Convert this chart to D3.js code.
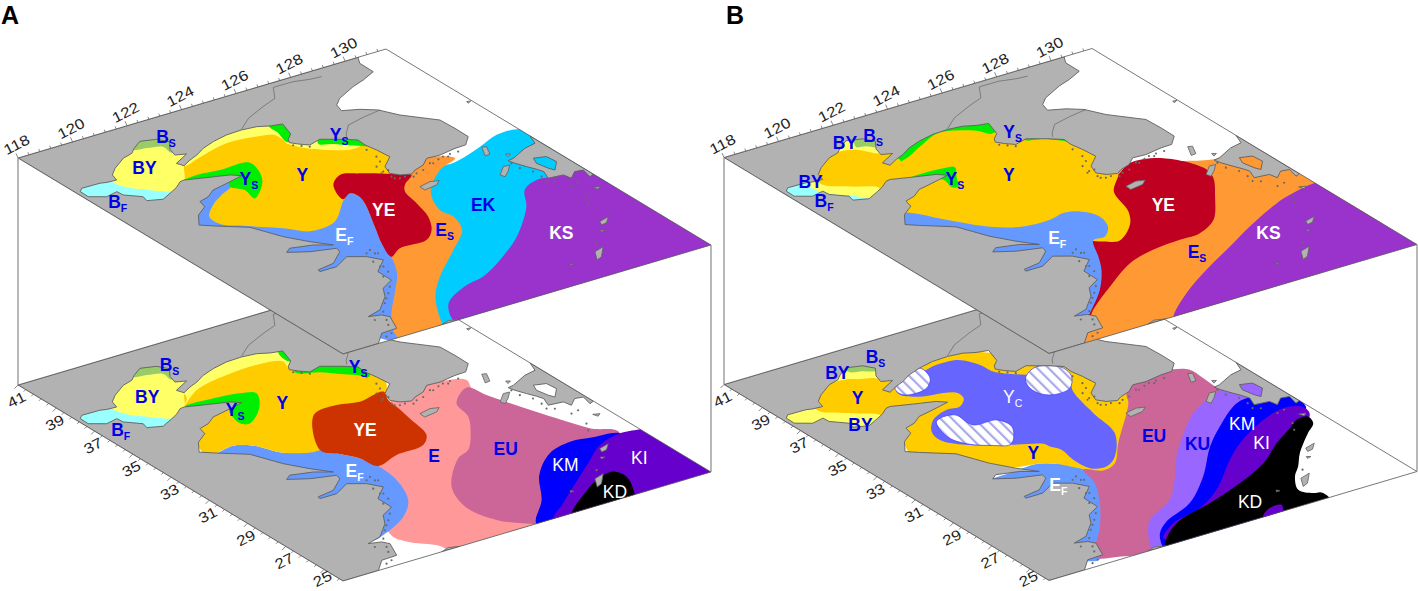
<!DOCTYPE html>
<html>
<head>
<meta charset="utf-8">
<script src="https://cdn.jsdelivr.net/npm/d3@7/dist/d3.min.js"></script>
<style>
  html, body { margin: 0; background: #fff; }
  text { font-family: "Liberation Sans", Arial, sans-serif; }
</style>
</head>
<body>
<div id="chart"></div>
<script>
// tick labels
const lonLabels = [118, 120, 122, 124, 126, 128, 130]
const latLabels = [41, 39, 37, 35, 33, 31, 29, 27, 25]

// land, all [lon, lat]
const mainland = [[118,41],[130.5,41],[130.44,40.94],[130.27,40.62],[130.26,39.9],[129.68,39.59],[129.16,39.38],[128.35,38.93],[128,38.59],[127.89,38.18],[128.4,37.94],[128.82,37.59],[129.15,36.92],[129.93,35.94],[129.96,35.2],[129.95,34.49],[129.55,34.05],[129.14,34.03],[128.5,33.9],[128.04,33.94],[127.68,33.61],[127.28,33.46],[127.03,33.29],[126.71,33.43],[126.52,33.7],[126.68,34.18],[127.2,34.67],[127.15,35.29],[127.07,35.78],[127.1,36.19],[126.76,36.49],[126.19,36.89],[125.71,36.73],[125.47,36.98],[125.3,37.22],[125.41,37.43],[125.69,37.7],[125.9,38.42],[125.51,38.52],[125.15,38.71],[124.64,38.78],[124.07,38.75],[123.48,38.59],[122.95,38.37],[122.52,38.09],[122.15,37.92],[121.77,37.69],[121.68,37.96],[122.31,38.33],[121.98,38.47],[122.09,38.88],[122.39,39.34],[122.17,39.7],[121.68,39.87],[121.25,39.56],[120.99,39.31],[120.58,39.17],[119.97,38.73],[119.63,38.39],[119.53,38.02],[119.19,38.05],[118.99,38.12],[118.33,38.14],[118.16,37.97],[118.15,37.54],[118.6,37.22],[119.06,37.34],[119.08,37.04],[119.5,36.59],[119.43,36.3],[119.89,36.1],[120.41,36.39],[120.7,36.56],[121.02,36.83],[121.19,36.86],[121.84,36.61],[122.53,36.36],[122.78,36.12],[122.4,36.01],[121.8,35.85],[121.5,35.78],[121.1,35.47],[120.7,35.33],[120.61,34.95],[120.11,34.57],[119.72,33.98],[120.04,33.68],[120.88,32.97],[121.32,31.85],[121.77,31.1],[122.21,30.51],[121.72,30.85],[121,31.07],[120.76,30.88],[121.36,30.52],[122.15,30.26],[122.1,30.01],[121.46,29.44],[120.82,29.32],[120.79,29.19],[121.41,29.19],[122.06,29.6],[122.55,29.26],[122.83,28.78],[122.22,28.19],[122.21,27.47],[121.67,27.13],[121.37,26.61],[120.71,25.93],[120.15,25.74],[120.54,25.61],[120.68,25.36],[120.37,24.57],[119.8,24.54],[119.3,24],[118,24]]
const kyushu = [[131.5,33.47],[131.32,32.95],[130.86,32.83],[130.18,32.45],[129.95,32.4],[130.01,32.13],[130.16,31.74],[130.3,31.41],[130.38,31.15],[130.22,30.69],[130.73,30.62],[130.79,30.29],[131.14,30.62],[131.42,30.56],[131.31,30.06],[131.5,30.15]]
const kyushuBay = [[130.67,32.11],[131.06,31.98],[131.1,31.51],[130.72,31.05],[130.63,31.27],[130.54,31.76]]
const islands = [
  [[126.72,32.41],[127.17,32.53],[127.44,32.43],[127.2,32.22],[126.7,32.13]],
  [[129.85,33.64],[129.99,33.59],[129.77,33.1],[129.58,33.07]],
  [[129.17,31.71],[129.59,32.14],[129.81,32.12],[129.5,31.77],[129.22,31.52]],
  [[130.16,32.83],[130.28,32.75],[130.11,32.64]],
  [[129.72,27.28],[130.13,27.42],[129.84,27.1],[129.63,27.05]],
  [[129.39,26.78],[129.5,26.7],[129.34,26.65]],
  [[128.37,25.61],[128.78,25.76],[128.33,25.21],[128.09,25.09]],
  [[130.94,29.39],[131.15,29.31],[131,29.19]],
  [[127.28,25.36],[127.34,25.24],[127.22,25.24]],
  [[131.34,36.55],[131.47,36.52],[131.31,36.43]],
  [[121.62,24],[121.95,24.13],[122.29,24]]
]
const islets = [[126.43,33.92],[126.44,33.33],[126.76,33.25],[127.18,33.24],[127.92,33.6],[128.51,33.76],[128.79,33.79],[126.76,34.56],[122.89,29.3],[122.69,29.45],[122.56,28.39],[122.47,28.01],[121.59,26.75],[121.1,26.23],[120.46,25.23],[120.04,24.37],[130.04,30.52],[130.45,29.8],[130.75,29.88],[130.41,28.96],[130.18,28.54],[128.76,26.08],
  [122.91,29.59],[122.97,29.25],[122.51,28.85],[122.48,28.45],[122.15,27.81],[121.9,27.11],[121.34,26.49],[120.72,25.77],[120.17,25.43],[120.3,24.91],[119.78,24.26],
  [126.62,33.92],[126.43,33.48],[126.57,33.24],[126.97,33.1],[127.48,33.32],[128,33.54],[128.29,33.68],[128.64,33.67],[129.09,33.79],
  [129.92,32.19],[129.93,31.76],[130.12,31.34],[130.12,30.89],[130.24,30.37],
  [125.29,37],[125.47,36.82],[125.64,36.63],[126.91,35.47],[126.87,34.9],[126.47,34.32],[126.32,33.85]]
const borderNorth = [[128.79,40.5],[128.39,40.55],[127.88,40.7],[127.16,40.71],[126.75,40.04],[126.13,39.77],[125.29,39.34],[124.67,38.82]]
const borderSouth = [[128.87,37.56],[128.16,37.42],[127.48,37.23],[127.08,36.78],[126.93,36.54]]

// water shared by the Bohai Sea panels
const bohaiFront = [[118.16,38.26],[119.59,38.27],[120.82,36.54],[119.9,35.6],[117.61,37.2]]
const bohaiYellowA = [[121.77,37.69],[121.17,36.82],[120.53,36.4],[119.8,37.02],[119.46,37.49],[119.36,38.05],[119.83,38.97],[121.4,39.89],[122.5,39.12],[122.07,37.98]]
const bohaiShelfA = [[121.17,39.53],[121.58,39.36],[122.03,39.14],[122,38.66],[122.86,39.45],[121.91,40.54]]

// panel A, upper
const ekA = [[128.64,33.24],[129.83,33.7],[130.72,34.1],[131.44,34.08],[132,33.5],[132,30],[123,23.5],[121.5,24],[123,28],[127,33]]
const ksA = [[130.73,30.62],[129.86,30.79],[129.16,30.41],[128.52,29.41],[127.06,27.83],[125.7,26.77],[124.61,26.09],[123.86,25.88],[122.84,25.3],[122.52,24.94],[122.13,24.2],[122,23.5],[133,23],[133,30.5]]
const esA = [[128.74,33.45],[127.89,33.03],[126.78,31.93],[126.26,30.71],[126.32,30.09],[125.99,29.16],[124.96,28.15],[123.54,26.83],[122.61,25.74],[121.74,24.18],[121.5,23.5],[120,23.5],[121,30],[126,34.5],[127.5,34.3]]
const efA = [[122.6,36.2],[120.82,35.67],[119.84,34.63],[119.3,34],[119.5,31],[119,27],[119.9,23.8],[120.21,24.53],[120.85,25.53],[121.75,26.64],[122.62,27.76],[123.16,28.83],[123.47,29.78],[123.98,30.86],[124.8,32.73],[124.73,33.22],[124.31,33.8],[123.5,35]]
const yA = [[121.95,38.06],[124.58,39.11],[125.97,38.14],[127.59,36.43],[127.15,34.42],[126.49,33.3],[124.94,33.37],[124.31,32.95],[123.2,31.84],[122.24,31.69],[121.66,32.34],[120.86,33.1],[120.28,33.68],[120.32,34.3],[120.89,34.91],[121.5,35.34],[122.16,35.75],[122.13,36.49],[121.06,36.8]]
const yellowNorthA = [[121.77,37.69],[122.51,37.91],[123.73,38.26],[124.85,38.11],[125.26,37.91],[125.26,37.48],[125.22,37.15],[126.46,38.66],[124.44,39.79],[122.04,38.29]]
const yellowEastA = [[125.26,37.25],[125.38,36.76],[125.92,36.15],[126.62,35.75],[127.21,35.97],[126.83,37.1],[125.84,37.79]]
const greenBayA = [[125.49,38.56],[125.43,38.02],[125.27,37.27],[125.87,37.63],[126.15,38.74]]
const greenEastA = [[125.97,36.66],[126.33,36.38],[126.69,36.02],[127.18,35.68],[127.27,36.51],[126.37,37.14]]
const greenCapeA = [[121.18,36.83],[121.71,36.93],[122.48,36.82],[123.49,36.78],[123.42,36.16],[123.01,35.36],[122.18,34.57],[122.27,35.23],[122.05,35.68],[122.3,36.23],[121.38,36.3]]
const yeA = [[124.66,34],[125.23,34.47],[125.78,34.22],[126.81,33.41],[126.99,33.23],[126.42,32.77],[126.15,32.38],[125.96,31.49],[125.7,30.52],[125.24,29.69],[124.7,29.19],[123.71,29.17],[123.16,28.83],[123.47,29.78],[123.98,30.86],[124.8,32.73],[124.73,33.22],[124.31,33]]

// panel A, lower
const eLow = [[121.08,25.94],[121.17,25.2],[121.81,24.36],[121.9,23.5],[125.5,23.5],[128.97,29.69],[128.98,32.85],[129.24,33.56],[128.74,33.89],[127.05,33.92],[124.19,31.59]]
const euLowA = [[128.94,33.13],[129.12,32.35],[129.47,31.1],[129.89,29.78],[130.3,28.63],[130.84,27.82],[125.71,23.29],[125.08,23.96],[124.27,24.91],[124.04,26.22],[124.52,27.62],[125.84,29.15],[126.43,29.47],[127.17,30.4],[127.79,31.41],[128.04,32.38]]
const kmLowA = [[125.08,23.96],[126.19,25.29],[127.15,26.78],[128.3,27.87],[129.27,28.19],[130.01,28.05],[130.84,27.82],[130.75,26.99],[126.53,22.72]]
const kiLowA = [[130.84,27.82],[129.87,27.49],[128.83,26.62],[127.8,25.76],[126.59,24.73],[125.65,23.91],[125.5,23],[133,23],[133,27.5],[131.5,27.71]]
const kdLowA = [[126.38,24],[127.42,24.86],[128.36,25.51],[129.11,25.71],[129.23,25.19],[128.86,24.29],[128.34,23.48],[125.83,23.21]]
const efLowA = [[120.1,33.61],[120.82,33.76],[121.31,33.42],[121.77,32.49],[122.78,32.02],[123.1,31.45],[123.42,30.84],[123.56,30.09],[123.44,28.95],[122.91,27.59],[122.11,26.7],[120.87,25.98],[120.4,25.84],[119.5,27],[119.5,31],[119.8,33.6]]
const yLowA = [[121.95,38.06],[124.58,39.11],[125.97,38.14],[127.59,36.43],[127.12,34.73],[125.03,32.44],[123.5,32.5],[122.78,32.02],[121.77,32.49],[121.31,33.42],[120.82,33.76],[120.1,33.61],[119.78,33.5],[120.01,34.51],[120.98,35.56],[122.13,36.49],[121.06,36.8]]
const yellowLowA = [[121.23,36.92],[122.2,37.63],[123.54,37.99],[124.92,38.04],[125.48,37.79],[125.34,37.31],[126.46,38.66],[124.44,39.79],[122.04,38.29],[121.6,37.3]]
const greenCapeLowA = [[121.23,36.86],[122.27,36.86],[123.12,36.7],[123.53,36.41],[123.06,35.58],[122.15,34.77],[121.9,34.95],[122.06,35.7],[122.3,36.23],[121.38,36.3]]
const greenBayLowA = [[125.76,38.46],[125.61,37.76],[125.87,37.63],[126.23,38.68]]
const greenEastLowA = [[125.33,36.97],[125.95,36.54],[126.37,36.1],[126.74,35.75],[127.01,35.44],[127.34,36.6],[125.78,37.69]]
const yeLowA = [[124.05,34.16],[125.02,34.35],[125.73,34.14],[126.72,34.32],[126.5,33.75],[126.41,33.09],[126.25,32.18],[126.01,31.05],[125.52,30.53],[124.46,30.41],[123.56,30.09],[123.42,30.84],[123.1,31.45],[122.78,32.02]]

// panel B, upper
const esB = [[130.05,32.45],[130.77,32.61],[131.68,31.98],[131.69,29.65],[133,27],[125,23],[119.3,23.8],[122,29],[126,33.5],[128.5,33.2]]
const ksB = [[122.49,23.91],[123.84,25.14],[125.29,26.16],[126.82,27.11],[128.12,27.93],[129.74,28.82],[130.4,29.08],[131.44,29.34],[133,29],[133,23],[122,23]]
const yeB = [[126.99,33.2],[127.76,33.68],[128.78,33.39],[129.39,32.01],[129.2,31.37],[128.49,30.27],[127.5,28.94],[126.62,28.4],[125.86,28.36],[124.79,28.24],[123.68,27.86],[122.24,26.85],[120.87,25.78],[119.96,24.86],[119.86,25.07],[122.15,28.68],[125.28,32.27]]
const yB = [[121.95,38.06],[124.58,39.11],[125.97,38.14],[127.59,36.43],[127.1,33.45],[126.99,33.2],[126.2,32.3],[125.75,30.9],[125.24,30.09],[124.35,29.35],[123.9,29.58],[123.58,29.84],[122.41,30.8],[121.46,32.05],[120.63,33.49],[120.09,34.46],[120.82,35.67],[122.13,36.49],[120.86,36.51]]
const efB = [[120.35,34.53],[120.88,33.63],[121.79,32.31],[122.54,31.84],[123.48,31.76],[124.08,31.92],[124.56,31.73],[124.84,31.1],[124.63,30.37],[124.15,29.84],[123.7,29.81],[123.17,28.79],[122.71,27.97],[121.85,26.83],[120.65,25.64],[120.05,25.09],[119.3,27],[119.5,31],[119.6,33.8],[119.9,34.8]]
const greenNorthB = [[121.78,37.71],[122.46,37.81],[123.27,38.26],[124.2,38.72],[124.65,38.66],[125.31,38.2],[125.55,37.77],[125.98,37.99],[124.92,39.6],[122.06,38.41]]
const greenEastB = [[126.12,36.85],[126.61,36.57],[127.08,36.03],[127.23,35.75],[127.48,36.64],[126.5,37.33]]
const greenCapeB = [[121.74,36.6],[122.26,36.66],[122.96,36.6],[123.29,36.46],[122.94,35.88],[122.58,35.27],[122.39,35.35],[122.49,35.92],[121.92,36.2]]
const bohaiYellowB = [[118.95,37.85],[119.07,37.16],[119.55,36.62],[120.25,35.92],[120.98,36.43],[122.07,37.98],[122.5,39.12],[121.4,39.89],[119.67,39.09]]
const bohaiOrangeB = [[121.09,39.35],[121.57,39.17],[121.89,38.65],[122.28,38.12],[121.47,36.08],[120.55,36.44],[120.59,36.61],[119.92,37.14],[119.31,37.86],[119.79,39]]
const bohaiShelfB = [[121.68,39.35],[121.95,39.21],[122.24,38.96],[122.67,39.29],[122.48,40.14],[122.15,40.1]]

// panel B, lower
const bohaiOrangeLowB = [[121.13,39.22],[121.57,38.97],[121.97,38.77],[122.28,38.12],[121.47,36.08],[120.57,36.28],[120.6,36.55],[119.77,37.28],[119.25,37.93],[119.79,39]]
const bohaiShelfLowB = [[121.58,39.6],[121.95,39.39],[122.35,39.16],[122.81,39.48],[122.55,40.24],[121.79,40.2]]
const efLowB = [[121.59,30.94],[122.49,30.98],[122.94,30.66],[123.39,29.89],[122.97,28.1],[120.3,24.47],[119.8,24.4],[119.3,27],[119.5,30.5]]
const yLowB = [[121.95,38.06],[124.58,39.11],[125.97,38.14],[127.59,36.43],[127.56,33.57],[125.5,30.5],[124,29.3],[123.39,29.89],[122.94,30.66],[122.49,30.98],[121.77,31.19],[121.37,31.76],[120.77,32.81],[119.7,33.56],[120.69,35.48],[122.13,36.49],[120.86,36.51]]
const euLowB = [[129.68,34.15],[130.06,33.83],[130.05,33.12],[129.98,32.24],[130,31.86],[126.79,28.32],[121.91,24.07],[120.62,24.2],[120.11,24.6],[121.46,26.27],[122.41,27.63],[123.1,28.87],[123.36,29.85],[123.82,29.47],[124.41,29.69],[125.31,30.8],[127.19,32.95],[127.56,33.57],[128.92,34.34]]
const kuLowB = [[129.87,32.08],[129.24,31.8],[128.38,31.25],[127.49,30.42],[126.2,29.02],[125.34,27.88],[124.26,26.61],[122.96,25.79],[122.37,25.04],[121.84,24.12],[121.8,23.6],[126,23.5],[130.4,29],[131.3,32],[130.5,32.5]]
const kmLowB = [[122.23,24.13],[122.66,24.84],[123.3,25.41],[124.62,26.08],[126.04,27.4],[127.43,29.02],[128.49,30.02],[129.85,31.08],[130.53,31.18],[130.78,31.01],[131.29,31.08],[131.42,29.7],[130.57,28.84],[128.08,25.97],[125.63,23.35],[122,23.5]]
const kiLowB = [[122.54,24.49],[123.39,25.19],[124.66,25.61],[125.82,26.39],[127.38,27.91],[128.3,28.7],[129.83,29.65],[130.79,29.99],[131.33,29.7],[131.18,29.15],[128.43,27.17],[123.25,24.15]]
const kdLowB = [[122.2,23.9],[122.38,24.18],[123.48,25.14],[125.12,25.73],[126.66,26.37],[128.06,27.13],[129.21,28.07],[130.14,28.71],[130.65,29.08],[131.06,29.08],[130.92,28.6],[130.38,28.11],[129.37,27.09],[128.78,26.34],[128.3,25.82],[127.83,24.98],[128.07,24.53],[128.29,24.43],[128.27,23.95],[128,23.5],[123,23.5]]
const kiPatchB = [[125.88,24.03],[126.38,24.41],[126.81,24.4],[126.65,24.08],[126.4,23.7]]
const ycLowB = [[122.01,37.73],[123.18,38.35],[123.43,38.33],[124.03,38.48],[124.77,38.39],[125.1,37.73],[125.16,37.12],[125.82,36.36],[126.58,35.7],[126.69,35.32],[126.3,34.57],[125.92,32.97],[125.63,31.44],[124.68,30.08],[124.06,29.64],[123.59,29.83],[123.52,30.6],[123.64,31.39],[123.49,31.78],[123.44,32.05],[122.62,32.54],[121.51,33.31],[121.05,34.06],[121.19,34.69],[121.71,35.34],[122.45,35.7],[122.91,35.66],[123.32,36.04],[123.41,36.46],[123.05,36.72],[122.41,36.87],[121.91,37.37]]
const hatchWest = [[122.06,37.85],[122.88,38.41],[123.49,38.57],[123.33,37.82],[122.84,37.3],[122.16,37.2],[121.95,37.43]]
const hatchSouth = [[121.72,35.19],[122.44,35.26],[122.48,34.36],[123.27,34.24],[123.37,33.61],[122.94,32.89],[122.58,32.57],[122.14,32.81],[121.55,33.37],[121.36,34.15]]
const hatchEast = [[125.68,36.18],[126.28,36.62],[126.72,36.55],[127.02,36.11],[126.88,35.48],[126.36,34.83],[125.68,34.73],[125.38,35.09],[125.41,35.64]]

// zone labels: name, subscript, white or blue, lon, lat
const labelsAUpper = [["B","S",0,122.51,39.69],["BY","",0,120.72,38.26],["B","F",0,118.67,36.74],["Y","S",0,122.82,35.8],["Y","",0,124.3,35.11],["Y","S",0,126.84,36.81],["E","F",1,122.89,30.9],["YE","",1,124.88,31.68],["E","S",0,125.56,29.46],["EK","",0,127.53,30.26],["KS","",1,128.34,27.32]]
const labelsALower = [["B","S",0,122.54,39.55],["BY","",0,120.7,38.09],["B","F",0,118.69,36.61],["Y","S",0,122.35,35.84],["Y","",0,123.78,35.42],["Y","S",0,127.12,36.21],["YE","",1,124.73,32.44],["E","F",1,122.79,30.22],["E","",0,125.34,29.7],["EU","",0,127.42,28.92],["KM","",1,128.21,26.92],["KI","",1,130.32,26.07],["KD","",1,128.34,24.52]]
const labelsBUpper = [["BY","",0,121.56,39.75],["B","S",0,122.55,39.69],["BY","",0,119.15,38.11],["B","F",0,118.71,36.78],["Y","S",0,122.81,35.78],["Y","",0,124.3,35.08],["Y","S",0,126.16,37.54],["E","F",1,122.91,30.57],["YE","",1,126.88,30.68],["E","S",0,125.8,27.38],["KS","",1,128.31,27.22]]
const labelsBLower = [["BY","",0,121.28,39.75],["B","S",0,122.87,40.02],["Y","",0,120.73,37.91],["BY","",0,119.71,36.3],["Y","C",1,124.61,35.33],["Y","",0,122.81,31.68],["E","F",1,122.13,29.4],["EU","",0,126.49,30.61],["KU","",0,127.23,29.39],["KM","",1,129.17,29.82],["KI","",1,128.86,28.37],["KD","",1,126.17,25.13]]

const colors = { Y: "#ffcc00", pale: "#ffff66", green: "#00ee00", shelf: "#99cc66", cyan: "#99ffff", ef: "#6699ff",
    yeDark: "#c00020", yeRust: "#cc3300", es: "#ff9933", ek: "#00ccff", ks: "#9933cc", e: "#ff9999", eu: "#cc6699",
    km: "#0000ff", ki: "#6600cc", kd: "#000000", ku: "#9966ff", yc: "#6666ff" }

// painted back to front, land goes on top of each stack
const stackAUpper = [[ekA,colors.ek],[ksA,colors.ks],[esA,colors.es],[efA,colors.ef],[yA,colors.Y],[yellowNorthA,colors.pale],[yellowEastA,colors.pale],[greenBayA,colors.green],[greenEastA,colors.green],[greenCapeA,colors.green],[bohaiFront,colors.cyan],[bohaiYellowA,colors.pale],[bohaiShelfA,colors.shelf],[yeA,colors.yeDark]]
const stackALower = [[eLow,colors.e],[euLowA,colors.eu],[kmLowA,colors.km],[kiLowA,colors.ki],[kdLowA,colors.kd],[efLowA,colors.ef],[yLowA,colors.Y],[yellowLowA,colors.pale],[greenCapeLowA,colors.green],[greenBayLowA,colors.green],[greenEastLowA,colors.green],[bohaiFront,colors.cyan],[bohaiYellowA,colors.pale],[bohaiShelfA,colors.shelf],[yeLowA,colors.yeRust]]
const stackBUpper = [[esB,colors.es],[ksB,colors.ks],[yeB,colors.yeDark],[yB,colors.Y],[efB,colors.ef],[greenNorthB,colors.green],[greenEastB,colors.green],[greenCapeB,colors.green],[bohaiFront,colors.cyan],[bohaiYellowB,colors.pale],[bohaiOrangeB,colors.Y],[bohaiShelfB,colors.shelf]]
const stackBLower = [[efLowB,colors.ef],[yLowB,colors.Y],[bohaiFront,colors.pale],[bohaiYellowA,colors.pale],[bohaiOrangeLowB,colors.Y],[bohaiShelfLowB,colors.shelf],[euLowB,colors.eu],[kuLowB,colors.ku],[kmLowB,colors.km],[kiLowB,colors.ki],[kdLowB,colors.kd],[kiPatchB,colors.ki],[ycLowB,colors.yc]]

const width = 1418, height = 591

const svg = d3.select("#chart").append("svg")
    .attr("width", width)
    .attr("height", height)
    .style("display", "block")

// the sheared plane: lon runs along one edge, lat along the other
const lonScale = d3.scaleLinear().domain([118, 131.5]).range([0, 1])
const latScale = d3.scaleLinear().domain([41, 24]).range([0, 1])
const lonEdge = [368, -109], latEdge = [325, 196]

function projector(ox, oy) {
    return ([lon, lat]) => [
        ox + lonScale(lon) * lonEdge[0] + latScale(lat) * latEdge[0],
        oy + lonScale(lon) * lonEdge[1] + latScale(lat) * latEdge[1]
    ]
}

const defs = svg.append("defs")
const hatch = defs.append("pattern")
    .attr("id", "hatch")
    .attr("patternUnits", "userSpaceOnUse")
    .attr("width", 8)
    .attr("height", 8)
    .attr("patternTransform", "rotate(-45)")
hatch.append("rect").attr("width", 8).attr("height", 8).attr("fill", "#fff")
hatch.append("rect").attr("width", 2.2).attr("height", 8).attr("fill", "#a9a9e8")

const corners = [[118, 41], [131.5, 41], [131.5, 24], [118, 24]]

function drawPlane(id, ox, oy, stack, labels, hatched) {
    const p = projector(ox, oy)
    const smooth = d3.line().curve(d3.curveCatmullRomClosed.alpha(0.5)).x(d => p(d)[0]).y(d => p(d)[1])
    const sharp = d3.line().curve(d3.curveLinearClosed).x(d => p(d)[0]).y(d => p(d)[1])
    const open = d3.line().x(d => p(d)[0]).y(d => p(d)[1])

    defs.append("clipPath").attr("id", id)
        .append("path").attr("d", sharp(corners))

    const plane = svg.append("g")
    plane.append("path").attr("d", sharp(corners)).attr("fill", "#fff")

    const inside = plane.append("g").attr("clip-path", `url(#${id})`)

    inside.selectAll(".zone")
        .data(stack)
        .join("path")
            .attr("class", "zone")
            .attr("d", d => smooth(d[0]))
            .attr("fill", d => d[1])

    if (hatched) {
        inside.selectAll(".hatch")
            .data(hatched)
            .join("path")
                .attr("class", "hatch")
                .attr("d", smooth)
                .attr("fill", "url(#hatch)")
                .attr("stroke", "#3a3aff")
                .attr("stroke-width", 0.7)
    }

    // land
    inside.append("path")
        .attr("d", sharp(mainland))
        .attr("fill", "#b2b2b2")
        .attr("stroke", "#5f5f5f")
        .attr("stroke-width", 0.9)
    inside.append("path")
        .attr("d", sharp(kyushu) + sharp(kyushuBay))
        .attr("fill", "#b2b2b2")
        .attr("fill-rule", "evenodd")
        .attr("stroke", "#5f5f5f")
        .attr("stroke-width", 0.9)
    inside.selectAll(".island")
        .data(islands)
        .join("path")
            .attr("class", "island")
            .attr("d", sharp)
            .attr("fill", "#b2b2b2")
            .attr("stroke", "#5f5f5f")
            .attr("stroke-width", 0.8)
    inside.selectAll(".islet")
        .data(islets)
        .join("circle")
            .attr("class", "islet")
            .attr("cx", d => p(d)[0])
            .attr("cy", d => p(d)[1])
            .attr("r", 1.1)
            .attr("fill", "#6a6a6a")
    inside.selectAll(".border")
        .data([borderNorth, borderSouth])
        .join("path")
            .attr("class", "border")
            .attr("d", open)
            .attr("fill", "none")
            .attr("stroke", "#666")
            .attr("stroke-width", 0.7)

    plane.append("path")
        .attr("d", sharp(corners))
        .attr("fill", "none")
        .attr("stroke", "#555")
        .attr("stroke-width", 0.8)

    // zone labels
    const text = plane.selectAll(".zone-label")
        .data(labels)
        .join("text")
            .attr("class", "zone-label")
            .attr("x", d => p([d[3], d[4]])[0])
            .attr("y", d => p([d[3], d[4]])[1])
            .attr("dy", "0.36em")
            .attr("text-anchor", "middle")
            .attr("fill", d => d[2] ? "#fff" : "#0000e6")
            .attr("font-size", 17.5)
            .attr("font-weight", d => ["KM", "KI", "KD"].includes(d[0]) || d[1] === "C" ? "normal" : "bold")
    text.append("tspan").text(d => d[0])
    text.append("tspan")
        .text(d => d[1])
        .attr("dy", 4)
        .attr("font-size", 10.5)
}

function drawPanel(letter, ox, oy) {
    const lowerY = oy + 227
    const stacks = letter === "A"
        ? [stackAUpper, stackALower, labelsAUpper, labelsALower, null]
        : [stackBUpper, stackBLower, labelsBUpper, labelsBLower, [hatchWest, hatchSouth, hatchEast]]

    drawPlane(letter + "low", ox, lowerY, stacks[1], stacks[3], stacks[4])
    drawPlane(letter + "up", ox, oy, stacks[0], stacks[2], null)

    // posts joining the planes
    const up = projector(ox, oy), low = projector(ox, lowerY)
    svg.selectAll(".post" + letter)
        .data([[118, 41], [131.5, 24]])
        .join("line")
            .attr("class", "post" + letter)
            .attr("x1", d => up(d)[0]).attr("y1", d => up(d)[1])
            .attr("x2", d => low(d)[0]).attr("y2", d => low(d)[1])
            .attr("stroke", "#888")
            .attr("stroke-width", 1.2)

    // longitude axis on the upper plane
    svg.append("g").selectAll("line")
        .data(d3.range(118, 131.5, 0.4))
        .join("line")
            .attr("x1", d => up([d, 41])[0]).attr("y1", d => up([d, 41])[1])
            .attr("x2", (d, i) => up([d, 41])[0] - (i % 5 ? 1 : 2))
            .attr("y2", (d, i) => up([d, 41])[1] - (i % 5 ? 2.5 : 4.5))
            .attr("stroke", "#555")
            .attr("stroke-width", 0.7)
    svg.append("g").selectAll("text")
        .data(lonLabels)
        .join("text")
            .attr("transform", d => {
                const [x, y] = up([d, 41])
                return `translate(${x - 1.5},${y - 13.5}) rotate(-27) scale(1,0.85)`
            })
            .attr("dy", "0.36em")
            .attr("text-anchor", "middle")
            .attr("font-size", 17)
            .attr("fill", "#222")
            .text(d => d)

    // latitude axis on the lower plane
    svg.append("g").selectAll("line")
        .data(d3.range(41, 24, -0.4))
        .join("line")
            .attr("x1", d => low([118, d])[0]).attr("y1", d => low([118, d])[1])
            .attr("x2", (d, i) => low([118, d])[0] - (i % 5 ? 2 : 3.5))
            .attr("y2", (d, i) => low([118, d])[1] + (i % 5 ? 2 : 3.5))
            .attr("stroke", "#555")
            .attr("stroke-width", 0.7)
    svg.append("g").selectAll("text")
        .data(latLabels)
        .join("text")
            .attr("transform", d => {
                const [x, y] = low([118, d])
                // keep the last label inside the page
                return `translate(${x - 1.5},${Math.min(y + 14.5, 578.5)}) rotate(-27) scale(1,0.85)`
            })
            .attr("dy", "0.36em")
            .attr("text-anchor", "middle")
            .attr("font-size", 17)
            .attr("fill", "#222")
            .text(d => d)

    // panel letter
    svg.append("text")
        .attr("x", letter === "A" ? 1 : 726)
        .attr("y", 24)
        .attr("font-size", 25)
        .attr("font-weight", "bold")
        .attr("fill", "#000")
        .text(letter)
}

drawPanel("A", 18, 158)
drawPanel("B", 724, 157.5)
</script>
</body>
</html>
